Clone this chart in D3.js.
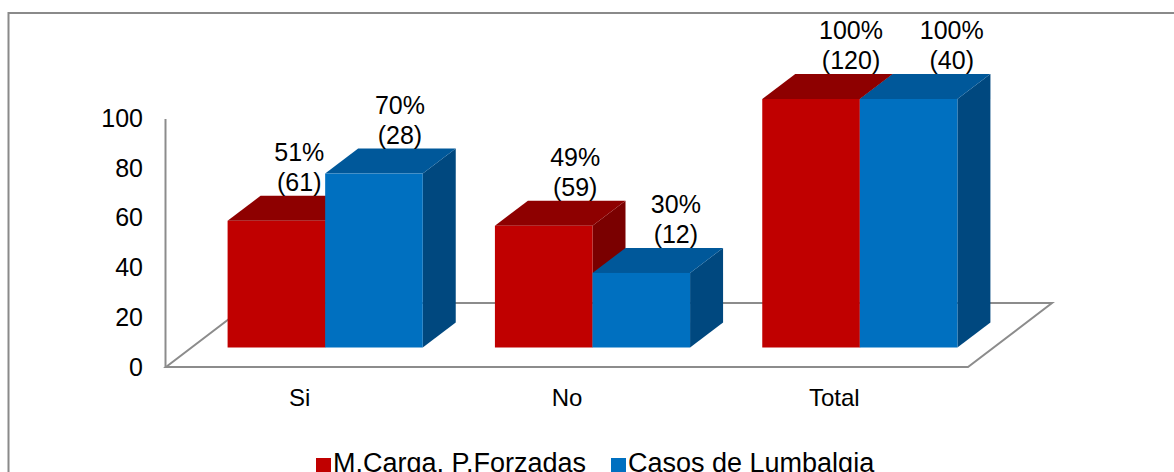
<!DOCTYPE html>
<html>
<head>
<meta charset="utf-8">
<script src="https://cdn.jsdelivr.net/npm/d3@7"></script>
<style>
  html, body { margin: 0; padding: 0; background: #fff; }
  svg { display: block; }
  text { font-family: "Liberation Sans", Arial, sans-serif; fill: #000; }
</style>
</head>
<body>
<svg id="chart" width="1174" height="472"></svg>
<script>
// Categories, series and values (percent) with the counts shown in the labels
const categories = ["Si", "No", "Total"];
const seriesNames = ["M.Carga, P.Forzadas", "Casos de Lumbalgia"];
const cargaPct = [51, 49, 100];
const lumbalgiaPct = [70, 30, 100];
const cargaCount = [61, 59, 120];
const lumbalgiaCount = [28, 12, 40];
const yTicks = [0, 20, 40, 60, 80, 100];

const palette = [
  { front: "#C00000", top: "#8E0000", side: "#7A0000" },
  { front: "#0070C0", top: "#00589A", side: "#00487F" }
];

const svg = d3.select("#chart");

// outer frame
svg.append("rect")
  .attr("x", 8.5).attr("y", 13)
  .attr("width", 1200).attr("height", 500)
  .attr("fill", "none").attr("stroke", "#8a8a8a").attr("stroke-width", 2);

// plot geometry (front plane of the floor)
const x0 = 166, x1 = 968, yBase = 367, yTop = 118.5;
const floorDepth = { dx: 84, dy: -64 };
const barDepth = { dx: 33, dy: -25 };
// bars stand in the middle of the floor depth
const barShift = {
  dx: (floorDepth.dx - barDepth.dx) / 2,
  dy: (floorDepth.dy - barDepth.dy) / 2
};

const y = d3.scaleLinear().domain([0, 100]).range([yBase, yTop]);
const x = d3.scaleBand().domain(categories).range([x0, x1]).paddingInner(0).paddingOuter(0);
const groupWidth = x.bandwidth() * 0.73;
const xs = d3.scaleBand().domain(d3.range(seriesNames.length)).range([0, groupWidth]);

const lineColor = "#8c8c8c";

// floor outline
const floor = [
  [x0, yBase], [x1, yBase],
  [x1 + floorDepth.dx, yBase + floorDepth.dy],
  [x0 + floorDepth.dx, yBase + floorDepth.dy]
];
svg.append("path")
  .attr("d", d3.line()(floor) + "Z")
  .attr("fill", "none").attr("stroke", lineColor).attr("stroke-width", 2)
  .attr("stroke-linejoin", "miter");

// value axis
const yAxis = svg.append("g")
  .attr("transform", `translate(${x0 - 1},0)`)
  .call(d3.axisLeft(y).tickValues(yTicks).tickSize(0).tickSizeOuter(0).tickPadding(22));
yAxis.select(".domain").attr("stroke", lineColor).attr("stroke-width", 2);
yAxis.selectAll("text").style("font-size", "25px").attr("font-family", null);

// category axis
const xAxis = svg.append("g")
  .attr("transform", `translate(0,${yBase})`)
  .call(d3.axisBottom(x).tickSize(0).tickPadding(22));
xAxis.select(".domain").remove();
xAxis.selectAll("text").style("font-size", "24px").attr("font-family", null);

// 3D bars
const rows = [];
categories.forEach((c, i) => {
  [cargaPct[i], lumbalgiaPct[i]].forEach((v, s) => {
    rows.push({
      cat: c, s, v,
      count: s === 0 ? cargaCount[i] : lumbalgiaCount[i]
    });
  });
});

const barsG = svg.append("g");
const groupOffset = (x.bandwidth() - groupWidth) / 2;
// labels spread slightly away from the plot centre, as in a perspective view
const viewCentre = (x0 + x1) / 2 + floorDepth.dx / 2 + 16;
const spread = 0.032;

rows.forEach(d => {
  const left = x(d.cat) + groupOffset + xs(d.s) + barShift.dx;
  const right = left + xs.bandwidth();
  const top = y(d.v) + barShift.dy;
  const bottom = y(0) + barShift.dy;
  const { dx, dy } = barDepth;
  const col = palette[d.s];
  const g = barsG.append("g");
  // side face
  g.append("path")
    .attr("d", d3.line()([[right, top], [right + dx, top + dy], [right + dx, bottom + dy], [right, bottom]]) + "Z")
    .attr("fill", col.side);
  // top face
  g.append("path")
    .attr("d", d3.line()([[left, top], [left + dx, top + dy], [right + dx, top + dy], [right, top]]) + "Z")
    .attr("fill", col.top);
  // front face
  g.append("rect")
    .attr("x", left).attr("y", top)
    .attr("width", right - left).attr("height", bottom - top)
    .attr("fill", col.front);
  const backCentre = (left + right) / 2 + dx;
  d.labelX = backCentre + (backCentre - viewCentre) * spread;
  d.labelY = top + dy;
});

// data labels: percentage and count
const labels = svg.append("g");
rows.forEach(d => {
  const t = labels.append("text")
    .attr("text-anchor", "middle")
    .style("font-size", "25px");
  t.append("tspan").attr("x", d.labelX).attr("y", d.labelY - 35).text(`${d.v}%`);
  t.append("tspan").attr("x", d.labelX).attr("y", d.labelY - 5).text(`(${d.count})`);
});

// legend
const legend = svg.append("g");
const legendItems = [
  { name: seriesNames[0], color: palette[0].front, x: 316 },
  { name: seriesNames[1], color: palette[1].front, x: 611 }
];
legendItems.forEach(it => {
  legend.append("rect")
    .attr("x", it.x).attr("y", 458)
    .attr("width", 15).attr("height", 15)
    .attr("fill", it.color);
  legend.append("text")
    .attr("x", it.x + 17).attr("y", 472)
    .style("font-size", "27px")
    .text(it.name);
});
</script>
</body>
</html>
